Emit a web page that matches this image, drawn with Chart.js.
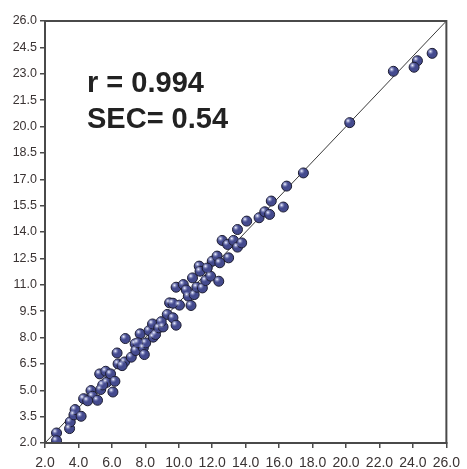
<!DOCTYPE html>
<html>
<head>
<meta charset="utf-8">
<script src="https://cdn.jsdelivr.net/npm/chart.js@4/dist/chart.umd.min.js"></script>
<style>
  html, body { margin: 0; padding: 0; background: #ffffff; }
  #c { display: block; }
</style>
</head>
<body>
<canvas id="c" width="467" height="469"></canvas>
<script>
// Reference values (x) and predicted values (y)
const refValues = [
  2.69, 2.69, 3.47, 3.51, 3.73, 3.80, 4.16, 4.31, 4.75, 4.84,
  5.14, 5.33, 5.27, 5.63, 5.69, 5.92, 6.18, 6.06, 6.31, 6.37,
  6.76, 6.80, 7.16, 7.39, 7.43, 7.69, 7.88, 7.94, 8.02, 8.22,
  8.43, 8.47, 8.61, 8.80, 9.06, 9.31, 9.45, 9.65, 9.84, 10.04,
  9.84, 10.27, 10.57, 10.73, 10.92, 10.82, 11.22, 11.27, 11.08, 11.41,
  11.61, 11.90, 12.00, 12.29, 12.39, 12.45, 12.59, 12.92, 12.98, 13.27,
  13.51, 13.51, 13.76, 14.06, 14.80, 15.14, 15.43, 15.53, 16.25, 16.45,
  17.45, 20.22, 22.83, 24.27, 24.07, 25.15,
  6.61, 5.45, 7.55, 9.65, 10.45, 11.70, 8.95, 4.55
];
const predValues = [
  2.57, 2.13, 2.82, 3.20, 3.60, 3.90, 3.52, 4.52, 4.98, 4.66,
  4.43, 5.04, 5.93, 6.08, 5.45, 5.93, 5.51, 4.90, 7.12, 6.50,
  6.61, 7.94, 6.88, 7.64, 7.26, 8.21, 7.41, 7.03, 7.69, 8.39,
  8.77, 8.02, 8.17, 8.55, 8.60, 9.31, 9.97, 9.12, 8.70, 9.84,
  10.86, 11.01, 10.35, 9.82, 10.44, 11.39, 12.06, 11.77, 10.86, 10.82,
  11.24, 11.49, 12.34, 12.63, 11.20, 12.25, 13.52, 13.29, 12.53, 13.52,
  14.14, 13.14, 13.38, 14.62, 14.81, 15.15, 15.00, 15.76, 15.42, 16.61,
  17.36, 20.22, 23.14, 23.74, 23.37, 24.16,
  6.40, 5.30, 7.70, 9.95, 10.70, 11.95, 8.90, 4.40
];
const identityLine = [2, 26];
const xTicksMin = 2, xTicksMax = 26, xStep = 2;
const yTicksMin = 2, yTicksMax = 26, yStep = 1.5;
const statLines = ["r = 0.994", "SEC= 0.54"];

const points = refValues.map((x, i) => ({ x: x, y: predValues[i] }));
const linePts = identityLine.map(v => ({ x: v, y: v }));

const frameAndText = {
  id: 'frameAndText',
  afterDatasetsDraw(chart) {
    const ctx = chart.ctx;
    const meta = chart.getDatasetMeta(1);
    ctx.save();
    meta.data.forEach(pt => {
      const g = ctx.createRadialGradient(pt.x - 1.7, pt.y - 1.9, 0.3, pt.x - 1.7, pt.y - 1.9, 3.4);
      g.addColorStop(0, 'rgba(235,238,255,0.95)');
      g.addColorStop(1, 'rgba(120,128,190,0)');
      ctx.fillStyle = g;
      ctx.beginPath();
      ctx.arc(pt.x - 1.3, pt.y - 1.5, 3.2, 0, Math.PI * 2);
      ctx.fill();
    });
    ctx.restore();
  },
  afterDraw(chart) {
    const ctx = chart.ctx;
    const a = chart.chartArea;
    ctx.save();
    ctx.strokeStyle = '#4a4a4a';
    ctx.lineWidth = 2;
    ctx.strokeRect(a.left, a.top, a.right - a.left, a.bottom - a.top);
    ctx.fillStyle = '#222222';
    ctx.font = 'bold 29px "Liberation Sans", Arial, sans-serif';
    ctx.textBaseline = 'alphabetic';
    ctx.textAlign = 'left';
    ctx.fillText(statLines[0], 87, 92);
    ctx.fillText(statLines[1], 87, 128);
    ctx.restore();
  }
};

new Chart(document.getElementById('c'), {
  type: 'scatter',
  data: {
    datasets: [
      {
        type: 'line',
        data: linePts,
        borderColor: '#3a3a3a',
        borderWidth: 1,
        pointRadius: 0,
        fill: false,
        order: 2
      },
      {
        data: points,
        backgroundColor: '#444a8e',
        borderColor: '#1c1c30',
        borderWidth: 1,
        pointRadius: 5,
        order: 1
      }
    ]
  },
  options: {
    responsive: false,
    animation: false,
    devicePixelRatio: 1,
    layout: { padding: { left: 0, top: 21, right: 15, bottom: 0 } },
    plugins: { legend: { display: false }, tooltip: { enabled: false } },
    scales: {
      x: {
        type: 'linear',
        min: xTicksMin, max: xTicksMax,
        ticks: {
          stepSize: xStep,
          autoSkip: false,
          maxRotation: 0,
          minRotation: 0,
          padding: 7,
          color: '#3a3333',
          font: { family: '"Liberation Sans", Arial, sans-serif', size: 14 },
          callback: v => Number(v).toFixed(1)
        },
        grid: { drawOnChartArea: false, drawTicks: true, tickLength: 5, color: '#4a4a4a', lineWidth: 1.5 },
        border: { display: true, color: '#4a4a4a', width: 2 },
        afterFit: s => { s.height = 26; }
      },
      y: {
        type: 'linear',
        min: yTicksMin, max: yTicksMax,
        ticks: {
          stepSize: yStep,
          autoSkip: false,
          padding: 3,
          color: '#3a3333',
          font: { family: '"Liberation Sans", Arial, sans-serif', size: 12.5 },
          callback: v => Number(v).toFixed(1)
        },
        grid: { drawOnChartArea: false, drawTicks: true, tickLength: 5, color: '#4a4a4a', lineWidth: 1.5 },
        border: { display: true, color: '#4a4a4a', width: 2 },
        afterFit: s => { s.width = 45; }
      }
    }
  },
  plugins: [frameAndText]
});
</script>
</body>
</html>
